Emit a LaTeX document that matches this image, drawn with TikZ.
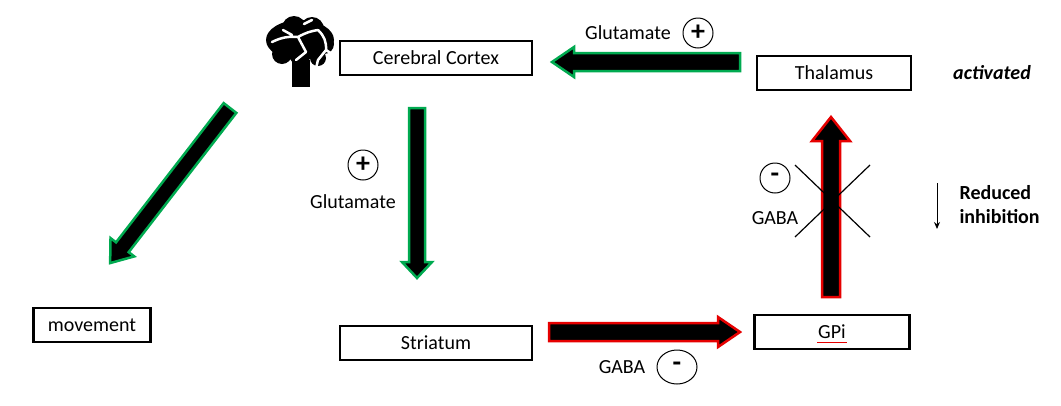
\documentclass[tikz,border=0pt]{standalone}
\usepackage{fontspec}
\setmainfont{Carlito}
\usetikzlibrary{shapes.geometric,arrows.meta}
\definecolor{agreen}{RGB}{0,170,80}
\definecolor{ared}{RGB}{230,0,0}
\newcommand\barrow[8]{% color, x, y, angle, length, shaft half, head half, head len
\begin{scope}[shift={(#2,#3)},rotate=#4]
\filldraw[draw=#1,line width=2.5pt,fill=black,line join=miter] (0,-#6) -- ({#5-#8},-#6) -- ({#5-#8},-#7) -- (#5,0) -- ({#5-#8},#7) -- ({#5-#8},#6) -- (0,#6) -- cycle;
\end{scope}}
\begin{document}
\begin{tikzpicture}[x=1pt,y=-1pt,
  box/.style={draw,line width=2.4pt,minimum width=#1,minimum height=34pt,inner sep=0pt,font=\fontsize{20}{22}\selectfont},
  box/.default=192pt,
  lab/.style={font=\fontsize{20}{22}\selectfont},
  sign/.style={draw,circle,line width=1pt,minimum size=30pt,inner sep=0pt,font=\fontsize{28}{28}\selectfont\bfseries}]
\useasboundingbox (0,0) rectangle (1061,405);
\barrow{agreen}{740}{62}{180}{188}{9}{15}{22}
\barrow{agreen}{417}{108}{-90}{170}{8}{15}{16}
\barrow{agreen}{230}{108}{-127.7}{196}{8}{15}{20}
\barrow{ared}{549}{332}{0}{191}{9}{15}{22}
\barrow{ared}{831}{297}{90}{180}{9}{19}{24}
\node[box] (cc) at (436,58) {Cerebral Cortex};
\node[box=154pt] (th) at (834,73) {Thalamus};
\node[box=117pt] (mv) at (92,325) {movement};
\node[box] (st) at (436,343) {Striatum};
\node[box=155pt] (gp) at (832,332) {GPi};
\draw[ared,line width=1pt] (817,342) -- (847,342);
\node[sign] (p1) at (698,33) {+};
\node[sign] (p2) at (363,165) {+};
\node[sign] (m1) at (775,178) {-};
\node[sign,ellipse,minimum width=40pt,minimum height=34pt] (m2) at (677,367) {-};
\node[lab] (g1) at (628,33) {Glutamate};
\node[lab] (g2) at (353,202) {Glutamate};
\node[lab] (ga1) at (775,218) {GABA};
\node[lab] (ga2) at (622,367) {GABA};
\node[lab,font=\fontsize{20}{22}\selectfont\bfseries\itshape] (act) at (992,73) {activated};
\node[lab,font=\fontsize{20}{24}\selectfont\bfseries,align=left,anchor=west] (ri) at (956,205) {Reduced\\inhibition};
\coordinate (d1) at (937,183); \coordinate (d2) at (937,229);
\draw[-{Stealth[length=7pt,width=6pt]},line width=1pt] (d1) -- (d2);
\coordinate (x1) at (795,165); \coordinate (x2) at (870,237);
\coordinate (x3) at (870,165); \coordinate (x4) at (795,237);
\draw[line width=1.2pt] (x1) -- (x2) (x3) -- (x4);
% brain icon
\fill (300,40) ellipse (34 and 20);
\fill (294,28) circle (12) (312,29) circle (12) (278,38) circle (10) (324,44) circle (10) (282,54) circle (10) (300,56) circle (10) (318,58) circle (8);
\fill (292,60) rectangle (310,87);
\draw[white,line width=2.5pt,line cap=round] (272,42) to[bend left=15] (298,37) to[bend left=10] (318,30) (298,37) -- (306,52) (283,30) -- (292,35) (304,24) -- (312,20) (318,30) to[bend left=25] (326,50) -- (318,60) -- (312,85) (306,52) -- (296,60) (326,50) -- (332,54);
\end{tikzpicture}
\end{document}
